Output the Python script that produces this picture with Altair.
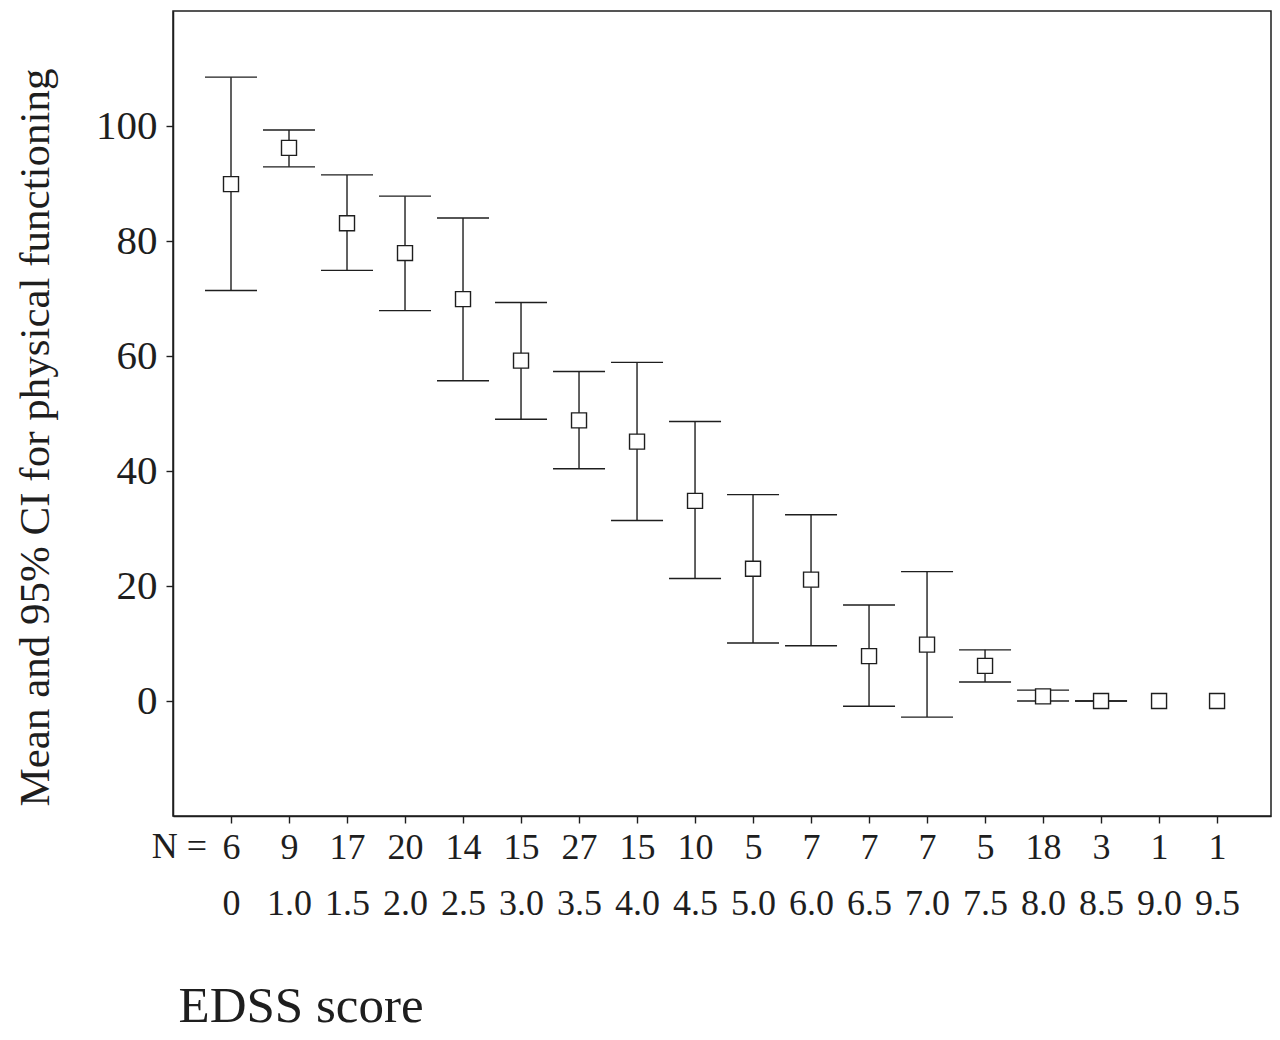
import altair as alt
import pandas as pd

edss = ["0", "1.0", "1.5", "2.0", "2.5", "3.0", "3.5", "4.0", "4.5", "5.0",
        "6.0", "6.5", "7.0", "7.5", "8.0", "8.5", "9.0", "9.5"]
n_counts = ["6", "9", "17", "20", "14", "15", "27", "15", "10", "5",
            "7", "7", "7", "5", "18", "3", "1", "1"]
means = [89.9, 96.2, 83.1, 77.9, 69.9, 59.2, 48.8, 45.1, 34.8, 23.0,
         21.1, 7.8, 9.8, 6.1, 0.8, 0.0, 0.0, 0.0]
lower = [71.4, 92.9, 74.9, 67.9, 55.7, 49.0, 40.4, 31.4, 21.3, 10.1,
         9.6, -0.9, -2.8, 3.3, 0.0, 0.0, None, None]
upper = [108.5, 99.3, 91.5, 87.8, 84.0, 69.3, 57.3, 58.9, 48.6, 35.9,
         32.4, 16.7, 22.5, 8.9, 1.9, 0.0, None, None]

df = pd.DataFrame({
    "idx": list(range(len(edss))),
    "edss": edss,
    "n": n_counts,
    "mean": means,
    "lower": lower,
    "upper": upper,
})

FONT = "Liberation Serif"
INK = "#1e1e1e"

label_arr = "[" + ",".join("['%s','%s']" % (a, b) for a, b in zip(n_counts, edss)) + "]"

x_enc = alt.X(
    "idx:Q",
    scale=alt.Scale(domain=[-1, 17.93], nice=False, zero=False),
    axis=alt.Axis(
        values=list(range(len(edss))),
        labelExpr=label_arr + "[datum.value]",
        labelFont=FONT, labelFontSize=36, labelColor=INK,
        labelBaseline="alphabetic", labelPadding=35, labelLineHeight=56,
        labelOverlap=False, labelFlush=False,
        tickSize=7, tickColor=INK, tickWidth=1.4,
        domainColor=INK, domainWidth=1.5, grid=False,
        title="EDSS score", titleFont=FONT, titleFontSize=51,
        titleFontWeight="normal", titleColor=INK,
        titleAlign="left", titleAnchor="start", titleBaseline="alphabetic",
        titleX=5, titleY=205,
    ),
)

y_scale = alt.Scale(domain=[-20, 120], nice=False, zero=False)
y_axis = alt.Axis(
    values=[0, 20, 40, 60, 80, 100],
    labelFont=FONT, labelFontSize=41, labelColor=INK, labelPadding=9,
    tickSize=7, tickColor=INK, tickWidth=1.4,
    domainColor=INK, domainWidth=1.5, grid=False,
    title="Mean and 95% CI for physical functioning",
    titleFont=FONT, titleFontSize=43, titleFontWeight="normal", titleColor=INK,
    titleAngle=-90, titleBaseline="alphabetic", titleAlign="center",
    titleX=-125, titleY=426,
)

base = alt.Chart(df)
ci = base.transform_filter("isValid(datum.lower)")

rules = ci.mark_rule(color=INK, strokeWidth=1.4).encode(
    x=x_enc,
    y=alt.Y("lower:Q", scale=y_scale, axis=y_axis),
    y2="upper:Q",
)
cap_lo = ci.mark_tick(orient="horizontal", size=52, thickness=1.4, color=INK, opacity=1).encode(
    x="idx:Q", y="lower:Q"
)
cap_hi = ci.mark_tick(orient="horizontal", size=52, thickness=1.4, color=INK, opacity=1).encode(
    x="idx:Q", y="upper:Q"
)
squares = base.mark_square(filled=True, fill="white", stroke=INK, strokeWidth=1.4,
                           size=225, opacity=1).encode(
    x="idx:Q", y="mean:Q"
)
n_label = alt.Chart(pd.DataFrame({"t": ["N ="]})).mark_text(
    font=FONT, fontSize=36, color=INK, align="center", baseline="alphabetic"
).encode(text="t:N", x=alt.value(6.5), y=alt.value(847))

chart = alt.layer(rules, cap_lo, cap_hi, squares, n_label).properties(
    width=1098, height=805,
    autosize=alt.AutoSizeParams(type="none"),
    padding={"left": 165, "top": 3, "right": 1, "bottom": 216},
    background="white",
).configure_view(stroke=INK, strokeWidth=1.5)

chart.save("out.html", embed_options={"renderer": "svg", "actions": False})
